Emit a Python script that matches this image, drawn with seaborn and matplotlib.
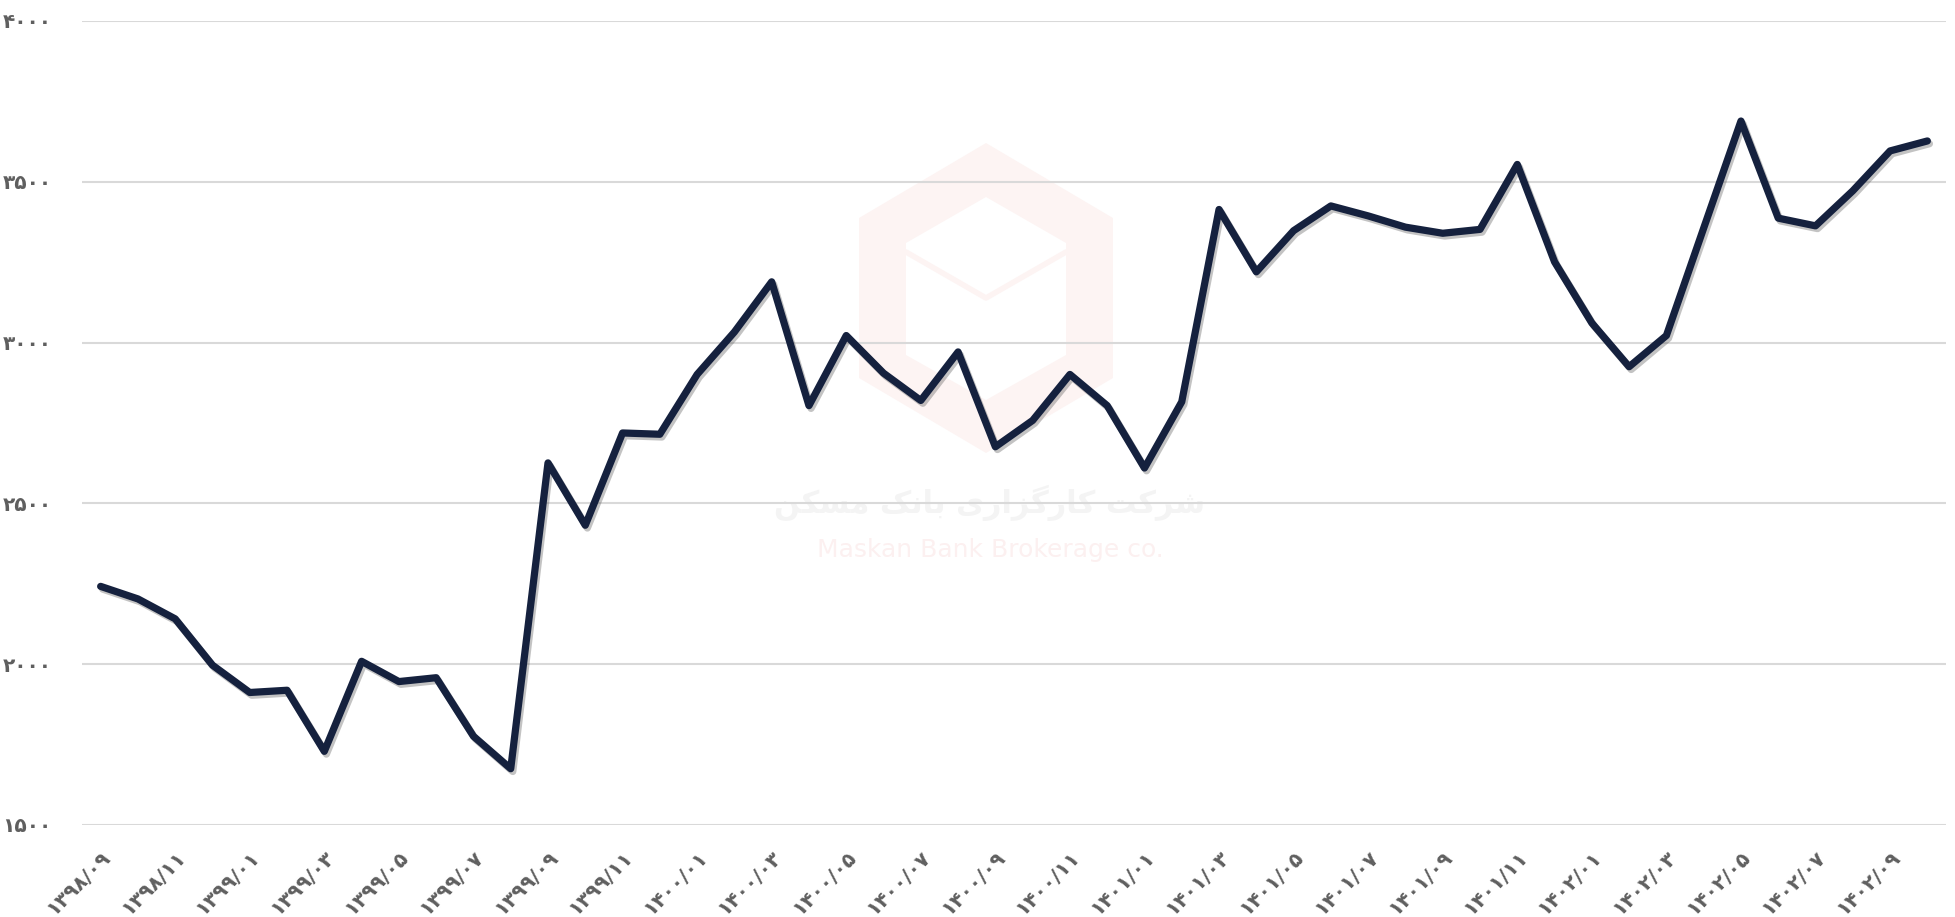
import matplotlib
matplotlib.use("Agg")
import matplotlib.pyplot as plt
import matplotlib.patheffects as pe
from matplotlib.patches import Polygon
import seaborn as sns
import pandas as pd

months = [
    "۱۳۹۸/۰۹", "۱۳۹۸/۱۰", "۱۳۹۸/۱۱", "۱۳۹۸/۱۲",
    "۱۳۹۹/۰۱", "۱۳۹۹/۰۲", "۱۳۹۹/۰۳", "۱۳۹۹/۰۴", "۱۳۹۹/۰۵", "۱۳۹۹/۰۶",
    "۱۳۹۹/۰۷", "۱۳۹۹/۰۸", "۱۳۹۹/۰۹", "۱۳۹۹/۱۰", "۱۳۹۹/۱۱", "۱۳۹۹/۱۲",
    "۱۴۰۰/۰۱", "۱۴۰۰/۰۲", "۱۴۰۰/۰۳", "۱۴۰۰/۰۴", "۱۴۰۰/۰۵", "۱۴۰۰/۰۶",
    "۱۴۰۰/۰۷", "۱۴۰۰/۰۸", "۱۴۰۰/۰۹", "۱۴۰۰/۱۰", "۱۴۰۰/۱۱", "۱۴۰۰/۱۲",
    "۱۴۰۱/۰۱", "۱۴۰۱/۰۲", "۱۴۰۱/۰۳", "۱۴۰۱/۰۴", "۱۴۰۱/۰۵", "۱۴۰۱/۰۶",
    "۱۴۰۱/۰۷", "۱۴۰۱/۰۸", "۱۴۰۱/۰۹", "۱۴۰۱/۱۰", "۱۴۰۱/۱۱", "۱۴۰۱/۱۲",
    "۱۴۰۲/۰۱", "۱۴۰۲/۰۲", "۱۴۰۲/۰۳", "۱۴۰۲/۰۴", "۱۴۰۲/۰۵", "۱۴۰۲/۰۶",
    "۱۴۰۲/۰۷", "۱۴۰۲/۰۸", "۱۴۰۲/۰۹", "۱۴۰۲/۱۰",
]

values = [
    2242, 2203, 2141, 1997, 1912, 1919, 1729, 2009, 1946, 1958,
    1776, 1675, 2626, 2432, 2719, 2715, 2901, 3033, 3189, 2804,
    3022, 2905, 2820, 2971, 2676, 2758, 2901, 2804, 2610, 2816,
    3414, 3220, 3348, 3425, 3394, 3359, 3340, 3352, 3554, 3251,
    3061, 2925, 3022, 3356, 3689, 3387, 3363, 3472, 3596, 3627,
]

y_ticks = [1500, 2000, 2500, 3000, 3500, 4000]
y_tick_labels = ["۱۵۰۰", "۲۰۰۰", "۲۵۰۰", "۳۰۰۰", "۳۵۰۰", "۴۰۰۰"]

watermark_fa = "ﻦﮑﺴﻣ ﮏﻧﺎﺑ ﯼﺭﺍﺰﮔﺭﺎﮐ ﺖﮐﺮﺷ"
watermark_en = "Maskan Bank Brokerage co."

df = pd.DataFrame({"month": months, "value": values})

sns.set_theme(style="white")
plt.rcParams["font.family"] = ["DejaVu Sans"]

fig = plt.figure(figsize=(19.56, 9.17), dpi=100)
ax = fig.add_axes([82 / 1956, 1 - 825 / 917, (1946 - 82) / 1956, (825 - 21) / 917])

# faint watermark logo (axes fraction coordinates)
def to_ax(px, py):
    return ((px - 82) / (1946 - 82), (825 - py) / (825 - 21))

hex_outer = [to_ax(*p) for p in [(986, 143), (1113, 218), (1113, 378), (986, 453), (859, 378), (859, 218)]]
hex_inner = [to_ax(*p) for p in [(986, 197), (1066, 243), (1066, 355), (986, 400), (906, 355), (906, 243)]]
ax.add_patch(Polygon(hex_outer, closed=True, transform=ax.transAxes, facecolor="#fdf4f3", edgecolor="none", zorder=0))
ax.add_patch(Polygon(hex_inner, closed=True, transform=ax.transAxes, facecolor="white", edgecolor="none", zorder=0))
vline = [to_ax(*p) for p in [(906, 252), (986, 298), (1066, 252)]]
ax.plot([p[0] for p in vline], [p[1] for p in vline], transform=ax.transAxes, color="#fdf4f3", lw=4, zorder=0)
cx, cy = to_ax(990, 503)
ax.text(cx, cy, watermark_fa, transform=ax.transAxes, ha="center", va="center",
        fontsize=22, fontweight="bold", color="#f4f4f4", zorder=0)
ex, ey = to_ax(990, 550)
ax.text(ex, ey, watermark_en, transform=ax.transAxes, ha="center", va="center",
        fontsize=18, color="#fcf0f0", zorder=0)

sns.lineplot(data=df, x="month", y="value", sort=False, ax=ax, color="#15213e",
             linewidth=5.2, zorder=3)
line = ax.get_lines()[-1]
line.set_solid_joinstyle("round")
line.set_solid_capstyle("round")
line.set_path_effects([pe.SimpleLineShadow(offset=(1.5, -2), shadow_color="#555555", alpha=0.35),
                       pe.Normal()])

ax.set_xlim(-0.5, len(months) - 0.5)
ax.set_ylim(1500, 4000)
ax.set_yticks(y_ticks)
ax.set_yticklabels(y_tick_labels)
xt = list(range(0, len(months), 2))
ax.set_xticks(xt)
ax.set_xticklabels([months[i] for i in xt], rotation=45, ha="right", rotation_mode="anchor")

ax.grid(axis="y", color="#d9d9d9", linewidth=1.5)
ax.grid(axis="x", visible=False)
for s in ax.spines.values():
    s.set_visible(False)
ax.set_xlabel("")
ax.set_ylabel("")
ax.tick_params(axis="y", length=0, pad=22, labelsize=14.5, labelcolor="#5f5f5f")
ax.tick_params(axis="x", length=0, pad=16, labelsize=14.5, labelcolor="#5f5f5f")
for t in ax.get_xticklabels() + ax.get_yticklabels():
    t.set_fontweight("bold")

fig.savefig("out.png", dpi=100)
